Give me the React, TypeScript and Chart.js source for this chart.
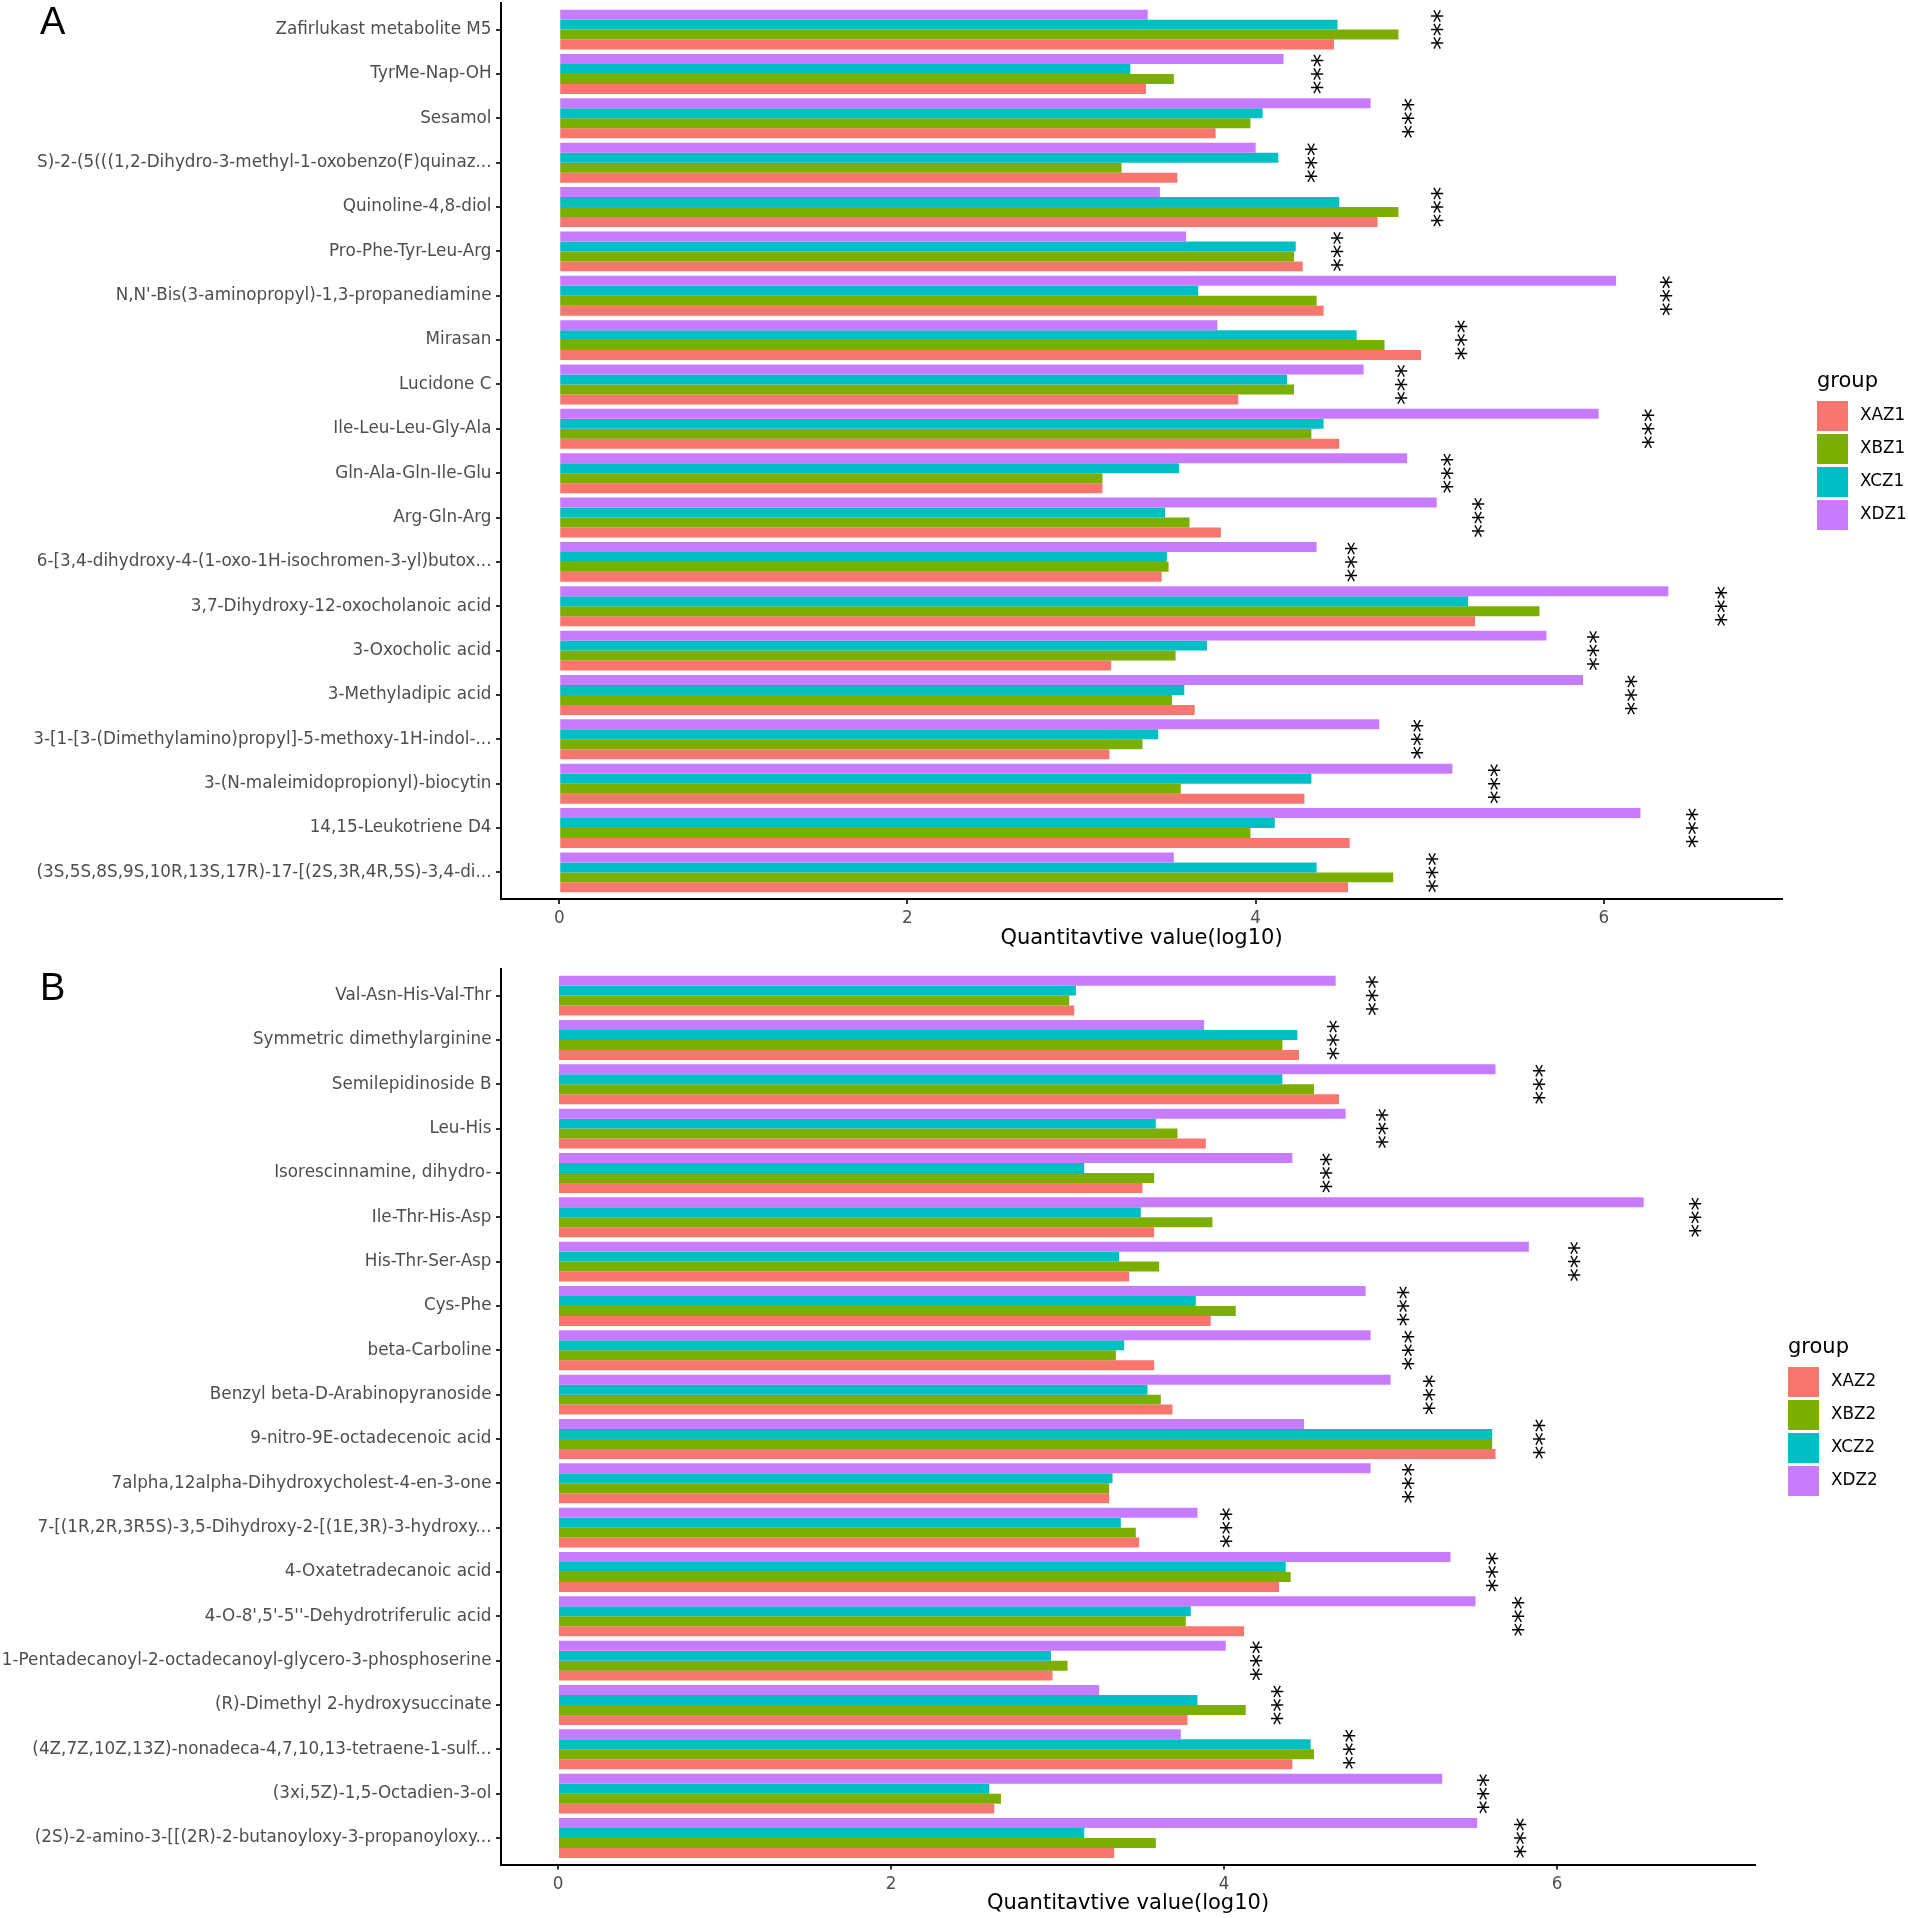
import React, { useEffect, useRef } from "react";
import { Chart, registerables } from "chart.js";

Chart.register(...registerables);

// ---------- Panel A data ----------
const categoriesA = [
  "Zafirlukast metabolite M5",
  "TyrMe-Nap-OH",
  "Sesamol",
  "S)-2-(5(((1,2-Dihydro-3-methyl-1-oxobenzo(F)quinaz...",
  "Quinoline-4,8-diol",
  "Pro-Phe-Tyr-Leu-Arg",
  "N,N'-Bis(3-aminopropyl)-1,3-propanediamine",
  "Mirasan",
  "Lucidone C",
  "Ile-Leu-Leu-Gly-Ala",
  "Gln-Ala-Gln-Ile-Glu",
  "Arg-Gln-Arg",
  "6-[3,4-dihydroxy-4-(1-oxo-1H-isochromen-3-yl)butox...",
  "3,7-Dihydroxy-12-oxocholanoic acid",
  "3-Oxocholic acid",
  "3-Methyladipic acid",
  "3-[1-[3-(Dimethylamino)propyl]-5-methoxy-1H-indol-...",
  "3-(N-maleimidopropionyl)-biocytin",
  "14,15-Leukotriene D4",
  "(3S,5S,8S,9S,10R,13S,17R)-17-[(2S,3R,4R,5S)-3,4-di...",
];
const groupsA = ["XAZ1", "XBZ1", "XCZ1", "XDZ1"];
const xaz1 = [4.45, 3.37, 3.77, 3.55, 4.70, 4.27, 4.39, 4.95, 3.90, 4.48, 3.12, 3.80, 3.46, 5.26, 3.17, 3.65, 3.16, 4.28, 4.54, 4.53];
const xbz1 = [4.82, 3.53, 3.97, 3.23, 4.82, 4.22, 4.35, 4.74, 4.22, 4.32, 3.12, 3.62, 3.50, 5.63, 3.54, 3.52, 3.35, 3.57, 3.97, 4.79];
const xcz1 = [4.47, 3.28, 4.04, 4.13, 4.48, 4.23, 3.67, 4.58, 4.18, 4.39, 3.56, 3.48, 3.49, 5.22, 3.72, 3.59, 3.44, 4.32, 4.11, 4.35];
const xdz1 = [3.38, 4.16, 4.66, 4.00, 3.45, 3.60, 6.07, 3.78, 4.62, 5.97, 4.87, 5.04, 4.35, 6.37, 5.67, 5.88, 4.71, 5.13, 6.21, 3.53];

// ---------- Panel B data ----------
const categoriesB = [
  "Val-Asn-His-Val-Thr",
  "Symmetric dimethylarginine",
  "Semilepidinoside B",
  "Leu-His",
  "Isorescinnamine, dihydro-",
  "Ile-Thr-His-Asp",
  "His-Thr-Ser-Asp",
  "Cys-Phe",
  "beta-Carboline",
  "Benzyl beta-D-Arabinopyranoside",
  "9-nitro-9E-octadecenoic acid",
  "7alpha,12alpha-Dihydroxycholest-4-en-3-one",
  "7-[(1R,2R,3R5S)-3,5-Dihydroxy-2-[(1E,3R)-3-hydroxy...",
  "4-Oxatetradecanoic acid",
  "4-O-8',5'-5''-Dehydrotriferulic acid",
  "1-Pentadecanoyl-2-octadecanoyl-glycero-3-phosphoserine",
  "(R)-Dimethyl 2-hydroxysuccinate",
  "(4Z,7Z,10Z,13Z)-nonadeca-4,7,10,13-tetraene-1-sulf...",
  "(3xi,5Z)-1,5-Octadien-3-ol",
  "(2S)-2-amino-3-[[(2R)-2-butanoyloxy-3-propanoyloxy...",
];
const groupsB = ["XAZ2", "XBZ2", "XCZ2", "XDZ2"];
const xaz2 = [3.10, 4.45, 4.69, 3.89, 3.51, 3.58, 3.43, 3.92, 3.58, 3.69, 5.63, 3.31, 3.49, 4.33, 4.12, 2.97, 3.78, 4.41, 2.62, 3.34];
const xbz2 = [3.07, 4.35, 4.54, 3.72, 3.58, 3.93, 3.61, 4.07, 3.35, 3.62, 5.61, 3.31, 3.47, 4.40, 3.77, 3.06, 4.13, 4.54, 2.66, 3.59];
const xcz2 = [3.11, 4.44, 4.35, 3.59, 3.16, 3.50, 3.37, 3.83, 3.40, 3.54, 5.61, 3.33, 3.38, 4.37, 3.80, 2.96, 3.84, 4.52, 2.59, 3.16];
const xdz2 = [4.67, 3.88, 5.63, 4.73, 4.41, 6.52, 5.83, 4.85, 4.88, 5.00, 4.48, 4.88, 3.84, 5.36, 5.51, 4.01, 3.25, 3.74, 5.31, 5.52];

// ---------- shared ----------
const xTickValues = [0, 2, 4, 6];
const xAxisTitle = "Quantitavtive value(log10)";
const legendTitle = "group";
const significance = "***";
const groupColors = ["#F8766D", "#7CAE00", "#00BFC4", "#C77CFF"];

const FONT = "'DejaVu Sans', sans-serif";

type PanelProps = {
  categories: string[];
  series: number[][];
  groups: string[];
  letter: string;
  top: number;
  height: number;
  padTop: number;
  padRight: number;
  xAxisH: number;
  titlePadBottom: number;
  legendX: number;
  legendY: number;
  letterY: number;
};

function Panel(p: PanelProps) {
  const ref = useRef<HTMLCanvasElement | null>(null);

  useEffect(() => {
    if (!ref.current) return;
    const n = p.categories.length;
    // star label position: 5% beyond the largest group value
    const stars = p.categories.map((_, i) => Math.max(...p.series.map((s) => s[i])) * 1.05);
    const maxStar = Math.max(...stars);
    const xMin = -0.05 * maxStar;
    const xMax = 1.05 * maxStar;

    const order = [3, 2, 1, 0];
    const datasets = order.map((k) => ({
      label: p.groups[k],
      data: p.series[k].map((v, i) => ({ x: v, y: i })),
      backgroundColor: groupColors[k],
      borderWidth: 0,
      categoryPercentage: 0.9,
      barPercentage: 1.0,
    }));

    const overlay = {
      id: "overlay" + p.letter,
      afterDatasetsDraw(chart: any) {
        const ctx = chart.ctx as CanvasRenderingContext2D;
        const xs = chart.scales.x;
        const ys = chart.scales.y;
        ctx.save();
        // significance marks
        ctx.fillStyle = "#000000";
        ctx.font = `27px ${FONT}`;
        ctx.textAlign = "center";
        ctx.textBaseline = "middle";
        stars.forEach((sx, i) => {
          const px = xs.getPixelForValue(sx);
          const py = ys.getPixelForValue(i);
          ctx.save();
          ctx.translate(px + 4, py);
          ctx.rotate(-Math.PI / 2);
          ctx.fillText(significance, 0, 0);
          ctx.restore();
        });
        // legend
        ctx.textAlign = "left";
        ctx.textBaseline = "alphabetic";
        ctx.font = `21px ${FONT}`;
        ctx.fillStyle = "#000000";
        ctx.fillText(legendTitle, p.legendX, p.legendY - 14);
        ctx.font = `16.8px ${FONT}`;
        ctx.textBaseline = "middle";
        p.groups.forEach((g, k) => {
          const y0 = p.legendY + k * 33;
          ctx.fillStyle = groupColors[k];
          ctx.fillRect(p.legendX, y0, 31, 30);
          ctx.fillStyle = "#000000";
          ctx.fillText(g, p.legendX + 43, y0 + 15);
        });
        // panel letter
        ctx.font = `38px 'Liberation Sans', Arial, sans-serif`;
        ctx.textBaseline = "alphabetic";
        ctx.fillText(p.letter, 40, p.letterY);
        ctx.restore();
      },
    };

    const chart = new Chart(ref.current, {
      type: "bar",
      data: { datasets: datasets as any },
      plugins: [overlay as any],
      options: {
        indexAxis: "y",
        animation: false,
        responsive: false,
        devicePixelRatio: 1,
        layout: { padding: { left: 0, right: p.padRight, top: p.padTop, bottom: 0 } },
        plugins: { legend: { display: false }, tooltip: { enabled: false } },
        scales: {
          x: {
            type: "linear",
            min: xMin,
            max: xMax,
            offset: false,
            afterBuildTicks: (s: any) => {
              s.ticks = xTickValues.map((v) => ({ value: v }));
            },
            afterFit: (s: any) => {
              s.height = p.xAxisH;
              s.paddingLeft = 0;
              s.paddingRight = 0;
            },
            grid: { offset: false, drawOnChartArea: false, drawTicks: true, tickLength: 5, color: "#333333", lineWidth: 2 },
            border: { display: true, color: "#000000", width: 2 },
            ticks: {
              color: "#4D4D4D",
              font: { family: FONT, size: 16.8 },
              padding: 5,
              maxRotation: 0,
              autoSkip: false,
              callback: (v: any) => String(v),
            },
            title: {
              display: true,
              text: xAxisTitle,
              color: "#000000",
              font: { family: FONT, size: 21 },
              padding: { top: 0, bottom: p.titlePadBottom },
            },
          },
          y: {
            type: "linear",
            min: -0.6,
            max: n - 0.4,
            reverse: true,
            offset: false,
            afterBuildTicks: (s: any) => {
              s.ticks = p.categories.map((_, i) => ({ value: i }));
            },
            afterFit: (s: any) => {
              s.width = 501;
              s.paddingTop = 0;
              s.paddingBottom = 0;
            },
            grid: { offset: false, drawOnChartArea: false, drawTicks: true, tickLength: 5, color: "#333333", lineWidth: 2 },
            border: { display: true, color: "#000000", width: 2 },
            ticks: {
              color: "#4D4D4D",
              font: { family: FONT, size: 16.8 },
              padding: 4.5,
              autoSkip: false,
              callback: (v: any) => p.categories[Math.round(Number(v))] ?? "",
            },
          },
        },
      } as any,
    });
    return () => chart.destroy();
  }, []);

  return (
    <canvas
      ref={ref}
      width={1908}
      height={p.height}
      style={{ position: "absolute", left: 0, top: p.top, width: 1908, height: p.height }}
    />
  );
}

export default function App() {
  return (
    <div style={{ position: "absolute", left: 0, top: 0, width: 1908, height: 1918, background: "#ffffff" }}>
      <Panel
        categories={categoriesA}
        series={[xaz1, xbz1, xcz1, xdz1]}
        groups={groupsA}
        letter="A"
        top={0}
        height={959}
        padTop={3}
        padRight={126}
        xAxisH={60}
        titlePadBottom={7.5}
        legendX={1817}
        legendY={401}
        letterY={34}
      />
      <Panel
        categories={categoriesB}
        series={[xaz2, xbz2, xcz2, xdz2]}
        groups={groupsB}
        letter="B"
        top={959}
        height={959}
        padTop={10}
        padRight={153}
        xAxisH={53.4}
        titlePadBottom={1.5}
        legendX={1788}
        legendY={408}
        letterY={41}
      />
    </div>
  );
}
